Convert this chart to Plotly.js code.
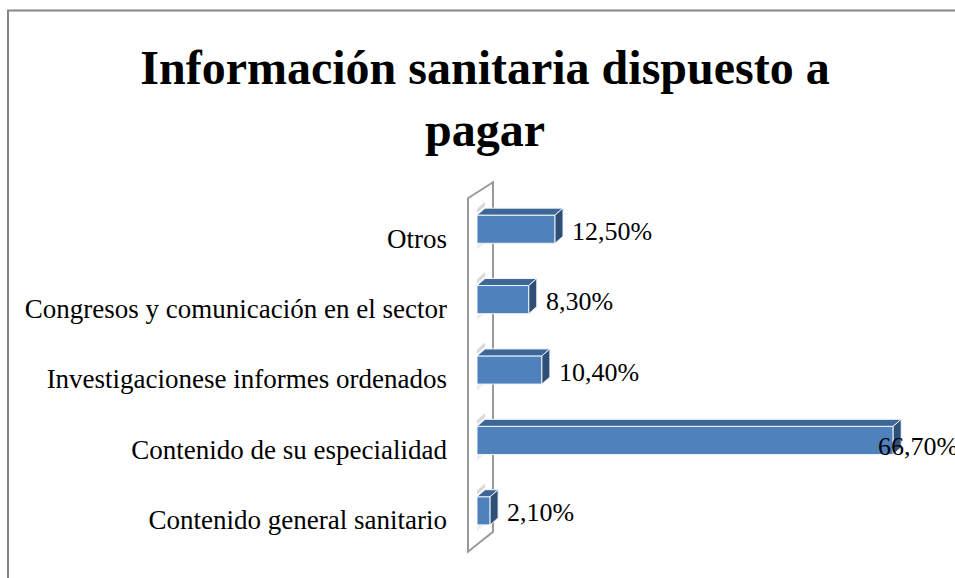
<!DOCTYPE html>
<html>
<head>
<meta charset="utf-8">
<script src="https://cdn.plot.ly/plotly-3.0.1.min.js"></script>
<style>html,body{margin:0;padding:0;background:#fff;}#chart{width:955px;height:578px;}</style>
</head>
<body>
<div id="chart"></div>
<script>
// ---- data (bottom to top, as in the chart) ----
const categories = [
  "Contenido general sanitario",
  "Contenido de su especialidad",
  "Investigacionese informes ordenados",
  "Congresos y comunicación en el sector",
  "Otros"
];
const values = [2.1, 66.7, 10.4, 8.3, 12.5];
const valueLabels = ["2,10%", "66,70%", "10,40%", "8,30%", "12,50%"];
const chartTitle = "Información sanitaria dispuesto a<br>pagar";

// ---- layout geometry ----
const W = 955, H = 578;
const plotL = 477, plotR = 935, plotT = 193.75, plotB = 546.25;
const xMax = 73.4;
const yMin = -0.5, yMax = 4.5;
const barW = 0.4;
const pxX = (plotR - plotL) / xMax;
const pxY = (plotB - plotT) / (yMax - yMin);
const depthX = 8 / pxX, depthY = 7 / pxY;
const serif = "'Liberation Serif', 'Times New Roman', serif";
const px2paperX = p => (p - plotL) / (plotR - plotL);
const px2paperY = p => (plotB - p) / (plotB - plotT);

const ypos = categories.map((_, i) => i);

const shapes = [];
// chart border
shapes.push({type:"rect", xref:"paper", yref:"paper",
  x0:px2paperX(8), x1:px2paperX(990), y0:px2paperY(600), y1:px2paperY(10),
  line:{color:"#868686", width:2}, fillcolor:"rgba(0,0,0,0)", layer:"below"});
// 3D wall outline
const wall = [[468,198],[493,182],[493,532],[468,552]];
shapes.push({type:"path", xref:"paper", yref:"paper",
  path: "M" + wall.map(p => px2paperX(p[0]) + "," + px2paperY(p[1])).join(" L") + " Z",
  line:{color:"#9a9a9a", width:2}, fillcolor:"rgba(0,0,0,0)", layer:"below"});
// 3D faces of bars
values.forEach((v, i) => {
  const yt = ypos[i] + barW/2, yb = ypos[i] - barW/2;
  shapes.push({type:"path", xref:"x", yref:"y", layer:"above",
    path:`M0,${yt} L${depthX},${yt+depthY} L${v+depthX},${yt+depthY} L${v},${yt} Z`,
    fillcolor:"#3E6798", line:{color:"#eef3f9", width:1}});
  shapes.push({type:"path", xref:"x", yref:"y", layer:"above",
    path:`M${v},${yt} L${v+depthX},${yt+depthY} L${v+depthX},${yb+depthY} L${v},${yb} Z`,
    fillcolor:"#2E5078", line:{color:"#eef3f9", width:1}});
  // faint shadows on the wall
  shapes.push({type:"path", xref:"x", yref:"y", layer:"below",
    path:`M0,${yt+0.03} L${depthX},${yt+depthY+0.03} L${depthX},${yt+depthY+0.09} L0,${yt+0.09} Z`,
    fillcolor:"#d9d9d9", line:{width:0}});
  shapes.push({type:"path", xref:"x", yref:"y", layer:"below",
    path:`M0,${yb-0.03} L${depthX},${yb+depthY-0.03} L${depthX},${yb+depthY-0.09} L0,${yb-0.09} Z`,
    fillcolor:"#ececec", line:{width:0}});
});

const annotations = values.map((v, i) => {
  const inside = v > 0.8 * xMax;
  return {
    x: v, y: ypos[i], xref:"x", yref:"y", text: valueLabels[i], showarrow:false,
    xanchor:"left", yanchor:"middle",
    xshift: inside ? -17 : 15, yshift: inside ? -6 : -2,
    font:{family:serif, size:26, color:"#000"}
  };
});

const trace = {
  type:"bar", orientation:"h", x: values, y: ypos, width: barW,
  marker:{color:"#4F81BD", line:{color:"#eef3f9", width:1}},
  hoverinfo:"none", cliponaxis:false
};

const layout = {
  width:W, height:H,
  margin:{l:plotL, r:W-plotR, t:plotT, b:H-plotB, pad:0},
  paper_bgcolor:"#fff", plot_bgcolor:"rgba(0,0,0,0)",
  title:{text:chartTitle, x:485/W, xanchor:"center", xref:"container",
    y:1-84/H, yanchor:"top", yref:"container",
    font:{family:serif, size:48, color:"#000", weight:"bold"}},
  xaxis:{range:[0,xMax], visible:false, fixedrange:true},
  yaxis:{range:[yMin,yMax], tickvals:ypos, ticktext:categories, showgrid:false,
    zeroline:false, showline:false, ticks:"", ticklabelstandoff:29, ticklabelshift:9,
    tickfont:{family:serif, size:27, color:"#000"}, fixedrange:true},
  shapes, annotations, showlegend:false, bargap:0
};

Plotly.newPlot("chart", [trace], layout, {staticPlot:true, displayModeBar:false});
</script>
</body>
</html>
